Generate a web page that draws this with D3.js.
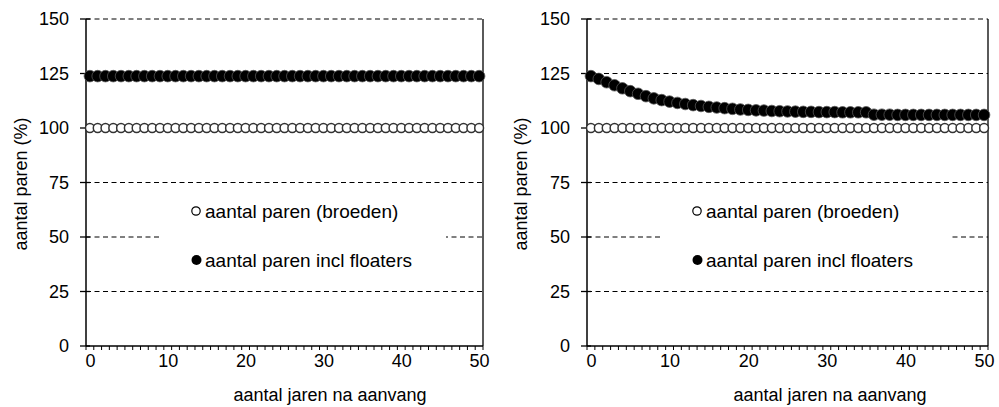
<!DOCTYPE html>
<html><head><meta charset="utf-8">
<script src="https://cdn.jsdelivr.net/npm/d3@7"></script>
<style>
body{margin:0;background:#fff;}
svg{display:block;font-family:"Liberation Sans",Arial,sans-serif;}
</style></head>
<body>
<svg id="chart" width="999" height="407"></svg>
<script>
const years = [0,1,2,3,4,5,6,7,8,9,10,11,12,13,14,15,16,17,18,19,20,21,22,23,24,25,26,27,28,29,30,31,32,33,34,35,36,37,38,39,40,41,42,43,44,45,46,47,48,49,50];
const yTicks = [0,25,50,75,100,125,150];
const xTickLabels = [0,10,20,30,40,50];
const seriesNames = ["aantal paren (broeden)","aantal paren incl floaters"];
const xTitle = "aantal jaren na aanvang";
const yTitle = "aantal paren (%)";

const leftBroeden = [100,100,100,100,100,100,100,100,100,100,100,100,100,100,100,100,100,100,100,100,100,100,100,100,100,100,100,100,100,100,100,100,100,100,100,100,100,100,100,100,100,100,100,100,100,100,100,100,100,100,100];
const leftFloaters = [123.8,123.8,123.8,123.8,123.8,123.8,123.8,123.8,123.8,123.8,123.8,123.8,123.8,123.8,123.8,123.8,123.8,123.8,123.8,123.8,123.8,123.8,123.8,123.8,123.8,123.8,123.8,123.8,123.8,123.8,123.8,123.8,123.8,123.8,123.8,123.8,123.8,123.8,123.8,123.8,123.8,123.8,123.8,123.8,123.8,123.8,123.8,123.8,123.8,123.8,123.8];
const rightBroeden = [100,100,100,100,100,100,100,100,100,100,100,100,100,100,100,100,100,100,100,100,100,100,100,100,100,100,100,100,100,100,100,100,100,100,100,100,100,100,100,100,100,100,100,100,100,100,100,100,100,100,100];
const rightFloaters = [123.8,122.5,121.0,119.6,118.2,116.9,115.7,114.6,113.6,112.8,112.1,111.5,111.0,110.5,110.1,109.7,109.4,109.1,108.8,108.5,108.3,108.1,108.0,107.8,107.7,107.6,107.5,107.4,107.4,107.3,107.3,107.3,107.2,107.2,107.2,107.2,106.1,106.1,106.1,106.0,106.0,106.0,106.0,106.0,106.0,106.0,106.0,106.0,106.0,106.0,106.0];

const svg = d3.select("#chart");
const FS = 18;

function panel(cfg, broeden, floaters){
  const g = svg.append("g");
  const x = d3.scaleLinear().domain([-0.5, 50.5]).range([cfg.left, cfg.right]);
  const y = d3.scaleLinear().domain([0,150]).range([346, 19]);

  g.selectAll("line.grid").data([25,50,75,125,150]).enter().append("line")
    .attr("x1", cfg.left).attr("x2", cfg.right)
    .attr("y1", d=>y(d)).attr("y2", d=>y(d))
    .attr("stroke","#000").attr("stroke-width",1).attr("stroke-dasharray","5,3.5");

  g.append("line").attr("x1",cfg.right).attr("x2",cfg.right).attr("y1",y(150)).attr("y2",y(0))
    .attr("stroke","#000").attr("stroke-width",1.3);

  g.append("rect").attr("x",cfg.legX0).attr("y",190).attr("width",cfg.legX1-cfg.legX0).attr("height",88)
    .attr("fill","#fff");

  const ya = g.append("g").attr("transform",`translate(${cfg.left},0)`)
    .call(d3.axisLeft(y).tickValues(yTicks).tickSize(0).tickPadding(17));
  ya.select(".domain").remove();
  ya.selectAll("text").attr("font-size",FS).attr("fill","#000").attr("font-family","Liberation Sans, Arial, sans-serif");
  g.selectAll("line.ytk").data(yTicks).enter().append("line")
    .attr("x1",cfg.left-6).attr("x2",cfg.left+4).attr("y1",d=>y(d)).attr("y2",d=>y(d))
    .attr("stroke","#000").attr("stroke-width",1.3);
  g.append("line").attr("x1",cfg.left).attr("x2",cfg.left).attr("y1",y(150)).attr("y2",y(0))
    .attr("stroke","#000").attr("stroke-width",1.5);

  const xa = g.append("g").attr("transform",`translate(0,${y(0)})`)
    .call(d3.axisBottom(x).tickValues(xTickLabels).tickSize(0).tickPadding(8).tickFormat(d3.format("d")));
  xa.select(".domain").remove();
  xa.selectAll("text").attr("font-size",FS).attr("fill","#000").attr("font-family","Liberation Sans, Arial, sans-serif");
  const minor = years.map(d=>d-0.5).concat([50.5]);
  g.selectAll("line.xtk").data(minor).enter().append("line")
    .attr("x1",d=>x(d)).attr("x2",d=>x(d)).attr("y1",y(0)).attr("y2",y(0)+4)
    .attr("stroke","#000").attr("stroke-width",1);
  g.append("line").attr("x1",cfg.left).attr("x2",cfg.right).attr("y1",y(0)).attr("y2",y(0))
    .attr("stroke","#000").attr("stroke-width",1.5);

  g.selectAll("circle.fl").data(floaters).enter().append("circle")
    .attr("cx",(d,i)=>x(years[i])).attr("cy",d=>y(d)).attr("r",5.8)
    .attr("fill","#000").attr("stroke","#555").attr("stroke-width",0.8);
  g.selectAll("circle.br").data(broeden).enter().append("circle")
    .attr("cx",(d,i)=>x(years[i])).attr("cy",d=>y(d)).attr("r",4.4)
    .attr("fill","#fff").attr("stroke","#333").attr("stroke-width",1.5);

  g.append("circle").attr("cx",cfg.legC).attr("cy",211).attr("r",4.2)
    .attr("fill","#fff").attr("stroke","#000").attr("stroke-width",1.2);
  g.append("text").attr("x",cfg.legC+9).attr("y",211).attr("dy","0.36em")
    .attr("font-size",FS+1).text(seriesNames[0]);
  g.append("circle").attr("cx",cfg.legC+0.5).attr("cy",260).attr("r",5)
    .attr("fill","#000");
  g.append("text").attr("x",cfg.legC+9).attr("y",260).attr("dy","0.36em")
    .attr("font-size",FS+1).text(seriesNames[1]);

  g.append("text").attr("x",cfg.xTitleX).attr("y",401).attr("text-anchor","middle")
    .attr("font-size",FS).text(xTitle);
  g.append("text").attr("transform",`translate(${cfg.yTitleX},184) rotate(-90)`)
    .attr("text-anchor","middle").attr("dy","0.36em").attr("font-size",FS).text(yTitle);
}

panel({left:86,right:483,legX0:160,legX1:446,legC:196,xTitleX:330,yTitleX:21}, leftBroeden, leftFloaters);
panel({left:587,right:988,legX0:660,legX1:952,legC:697,xTitleX:830,yTitleX:521}, rightBroeden, rightFloaters);
</script>
</body></html>
